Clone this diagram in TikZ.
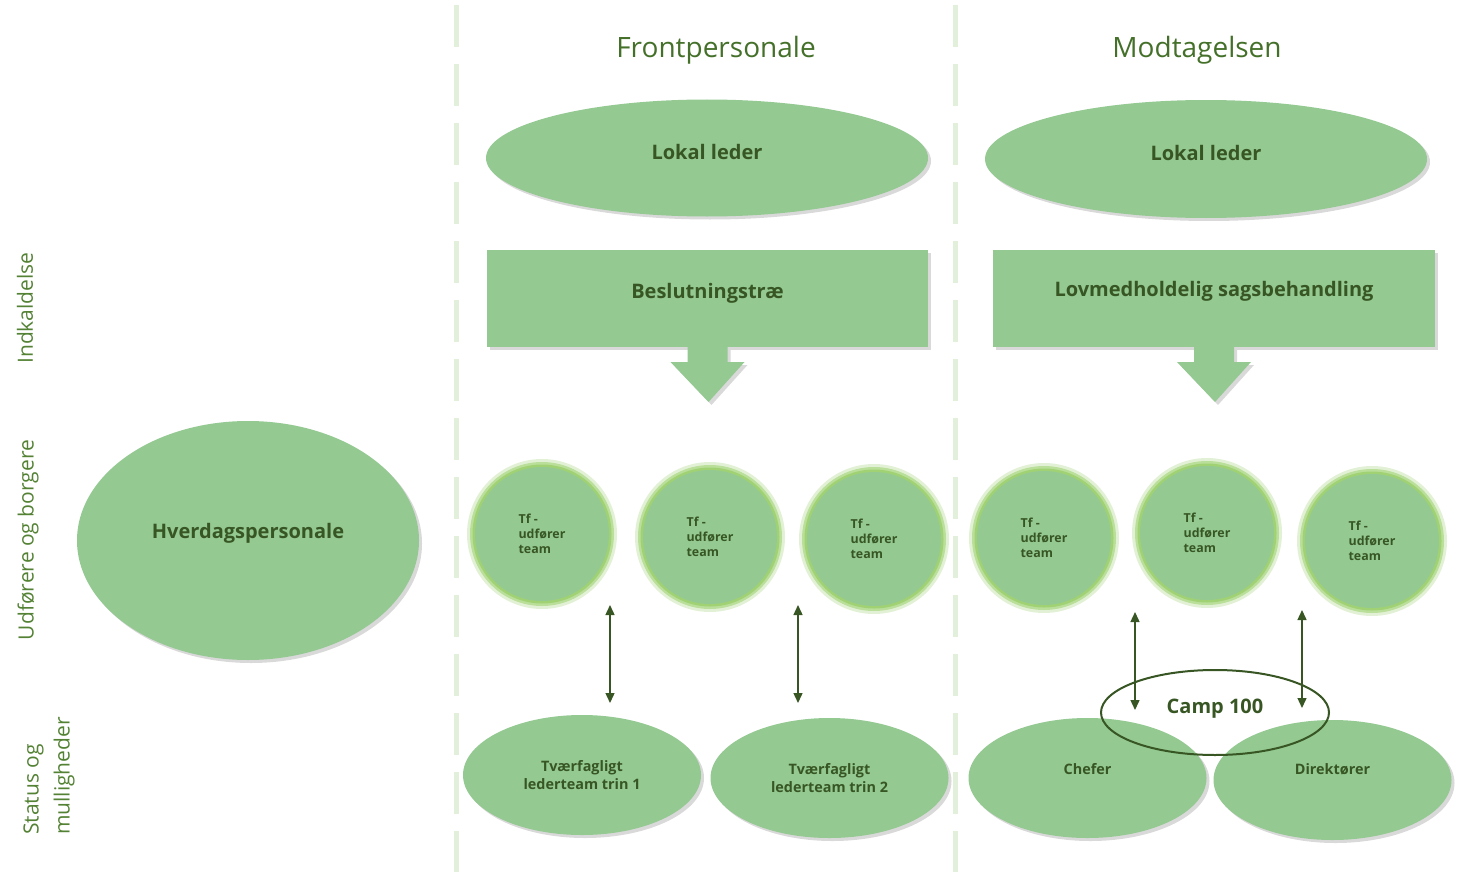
\documentclass[tikz,border=0pt]{standalone}
\usepackage{fontspec}
\setmainfont{Open Sans}
\usetikzlibrary{arrows.meta,shapes.geometric,shadows}

\definecolor{shapegreen}{RGB}{148,201,146}
\definecolor{glowgreen}{RGB}{160,210,115}
\definecolor{textgreen}{HTML}{375623}
\definecolor{titlegreen}{HTML}{44702A}
\definecolor{sidegreen}{HTML}{548235}
\definecolor{dashgreen}{HTML}{E2EFDA}

\begin{document}
\begin{tikzpicture}[x=0.5pt,y=-0.5pt,
    boxshadow/.style={drop shadow={shadow xshift=1.5pt,shadow yshift=-1.5pt,opacity=0.3}},
    divider/.style={draw=dashgreen,line width=2.5pt,dash pattern=on 21pt off 8.5pt},
    twoway/.style={draw=textgreen,line width=0.7pt,
      arrows={Triangle[length=5pt,width=4.5pt]-Triangle[length=5pt,width=4.5pt]}}]

  \useasboundingbox (0,0) rectangle (1461,872);

  % column dividers
  \draw[divider] (456,5) -- (456,872);
  \draw[divider] (955,5) -- (955,872);

  % headings
  \begin{scope}[every node/.style={text=titlegreen,font=\fontsize{14}{17}\selectfont}]
    \node (front) at (716,50)  {Frontpersonale};
    \node (modt)  at (1197,50) {Modtagelsen};
  \end{scope}

  % row labels
  \begin{scope}[every node/.style={text=sidegreen,rotate=90,align=left,
      font=\fontsize{10.5}{15.5}\selectfont}]
    \node (indk)   at (25,308) {Indkaldelse};
    \node (udf)    at (28,540) {Udførere og borgere};
    \node (status) at (49,776) {Status og\\mulligheder};
  \end{scope}

  % ellipses and boxes
  \begin{scope}[every node/.style={fill=shapegreen,boxshadow,inner sep=0pt,outer sep=0pt,
      text=textgreen,font=\bfseries\fontsize{10}{12}\selectfont,align=center}]
    \node[ellipse,minimum width=221pt,minimum height=58.5pt,text depth=6pt] (lok1) at (707,158)  {Lokal leder};
    \node[ellipse,minimum width=221pt,minimum height=59pt,text depth=6pt]   (lok2) at (1206,159) {Lokal leder};
    \node[minimum width=220.5pt,minimum height=48.5pt,text depth=8pt] (besl) at (707.5,298.5) {Beslutningstræ};
    \node[minimum width=221pt,minimum height=48.5pt,text depth=10pt] (lov) at (1214,298.5) {Lovmedholdelig sagsbehandling};
    \node[ellipse,minimum width=171pt,minimum height=119.5pt,text depth=10pt] (hverdag) at (248,540.5) {Hverdagspersonale};
  \end{scope}

  % block arrows under the boxes
  \fill[shapegreen,boxshadow,shift={(besl.south)}] (-20,0) -- (-20,15) -- (-37,15) -- (1,55)
    -- (37,15) -- (20,15) -- (20,0) -- cycle;
  \fill[shapegreen,boxshadow,shift={(lov.south)}] (-20,0) -- (-20,15) -- (-37,15) -- (1,55)
    -- (37,15) -- (20,15) -- (20,0) -- cycle;

  % teams
  \begin{scope}[every node/.style={circle,fill=shapegreen,minimum size=67pt,inner sep=0pt,
      drop shadow={shadow xshift=1pt,shadow yshift=-1pt,opacity=0.15},
      preaction={draw=glowgreen,draw opacity=0.3,line width=8pt},
      preaction={draw=glowgreen,draw opacity=0.6,line width=5pt},
      preaction={draw=glowgreen,line width=2.5pt},
      text=textgreen,align=left,font=\bfseries\fontsize{6.2}{7.5}\selectfont}]
    \node (tf1) at (542,534)  {Tf -\\udfører\\team};
    \node (tf2) at (710,537)  {Tf -\\udfører\\team};
    \node (tf3) at (874,539)  {Tf -\\udfører\\team};
    \node (tf4) at (1044,538) {Tf -\\udfører\\team};
    \node (tf5) at (1207,533) {Tf -\\udfører\\team};
    \node (tf6) at (1372,541) {Tf -\\udfører\\team};
  \end{scope}

  % leaders
  \begin{scope}[every node/.style={ellipse,fill=shapegreen,boxshadow,inner sep=0pt,
      minimum width=119pt,minimum height=60pt,
      text=textgreen,align=center,font=\bfseries\fontsize{7.2}{9}\selectfont}]
    \node (trin1) at (582,775)    {Tværfagligt\\lederteam trin 1};
    \node (trin2) at (829.5,778)  {Tværfagligt\\lederteam trin 2};
    \node[text depth=9pt]  (chef)  at (1087.5,778) {Chefer};
    \node[text depth=11pt] (dir)   at (1332.5,780) {Direktører};
  \end{scope}

  \node[ellipse,draw=textgreen,line width=1pt,minimum width=114pt,minimum height=42.5pt,
    inner sep=0pt,text depth=6pt,text=textgreen,font=\bfseries\fontsize{10}{12}\selectfont]
    (camp) at (1215,712.5) {Camp 100};

  % arrows between teams and leaders
  \coordinate (a1t) at (610,605);  \coordinate (a1b) at (610,703);
  \coordinate (a2t) at (798,605);  \coordinate (a2b) at (798,703);
  \coordinate (a3t) at (1135,612); \coordinate (a3b) at (1135,710);
  \coordinate (a4t) at (1302,610); \coordinate (a4b) at (1302,708);
  \draw[twoway] (a1t) -- (a1b);
  \draw[twoway] (a2t) -- (a2b);
  \draw[twoway] (a3t) -- (a3b);
  \draw[twoway] (a4t) -- (a4b);

\end{tikzpicture}
\end{document}
